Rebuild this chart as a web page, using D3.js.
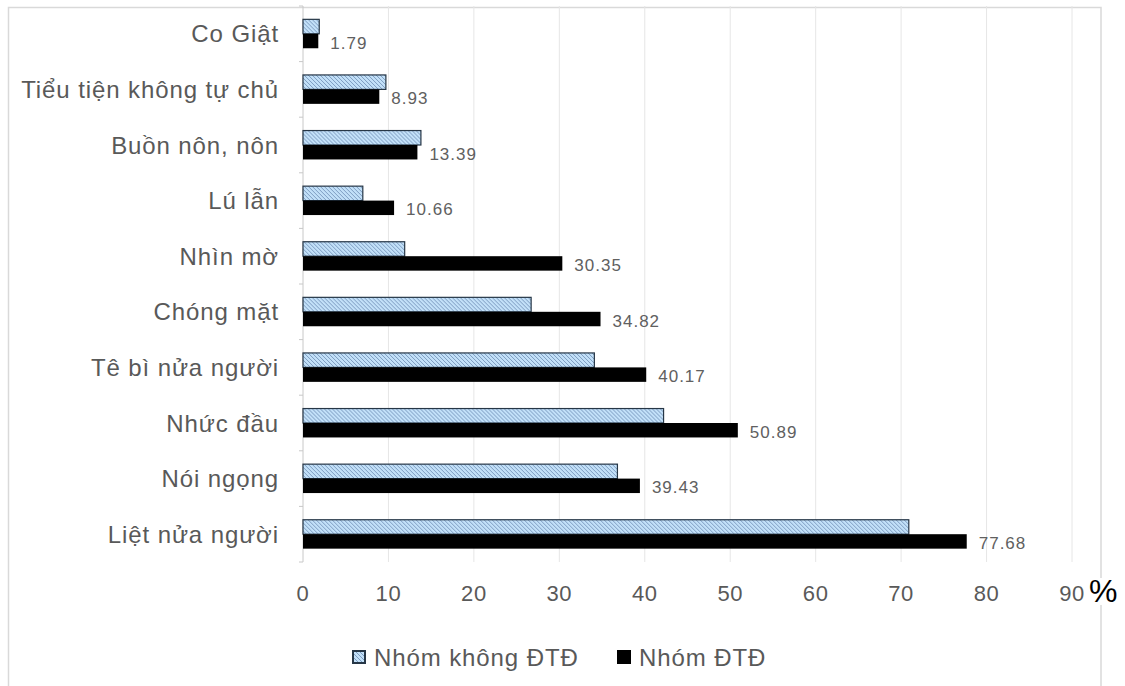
<!DOCTYPE html>
<html>
<head>
<meta charset="utf-8">
<script src="https://cdn.jsdelivr.net/npm/d3@7"></script>
<style>
  html, body { margin: 0; padding: 0; background: #fff; }
  svg { display: block; }
  text { font-family: "Liberation Sans", Arial, sans-serif; }
</style>
</head>
<body>
<svg id="chart" width="1125" height="686"></svg>
<script>
// Symptoms, listed top to bottom
const categories = [
  "Co Giật",
  "Tiểu tiện không tự chủ",
  "Buồn nôn, nôn",
  "Lú lẫn",
  "Nhìn mờ",
  "Chóng mặt",
  "Tê bì nửa người",
  "Nhức đầu",
  "Nói ngọng",
  "Liệt nửa người"
];
// Group without diabetes (hatched bars)
const nonDiabetic = [1.9, 9.7, 13.8, 7.0, 11.9, 26.7, 34.1, 42.2, 36.8, 70.9];
// Group with diabetes (black bars, labelled)
const diabetic = [1.79, 8.93, 13.39, 10.66, 30.35, 34.82, 40.17, 50.89, 39.43, 77.68];
const tickValues = [0, 10, 20, 30, 40, 50, 60, 70, 80, 90];
const seriesNames = ["Nhóm không ĐTĐ", "Nhóm ĐTĐ"];

const svg = d3.select("#chart");
const W = 1125, H = 686;
const plot = { left: 303, right: 1072, top: 6, bottom: 562 };

// Outer frame
svg.append("rect")
  .attr("x", 8.5).attr("y", 7.5)
  .attr("width", 1101 - 8.5).attr("height", H)
  .attr("fill", "#fff").attr("stroke", "#d9d9d9").attr("stroke-width", 1.5);

// Hatch pattern for the non-diabetic series
const defs = svg.append("defs");
const pat = defs.append("pattern")
  .attr("id", "hatch")
  .attr("patternUnits", "userSpaceOnUse")
  .attr("width", 4).attr("height", 4);
pat.append("rect").attr("width", 4).attr("height", 4).attr("fill", "#c2e0f8");
pat.append("path").attr("d", "M-1,-1 L5,5 M-1,3 L1,5 M3,-1 L5,1")
  .attr("stroke", "#7594bb").attr("stroke-width", 0.9);

const x = d3.scaleLinear().domain([0, 90]).range([plot.left, plot.right]);
const y = d3.scaleBand().domain(categories).range([plot.top, plot.bottom]).paddingInner(0.48).paddingOuter(0.24);
const ySub = d3.scaleBand().domain(["a", "b"]).range([0, y.bandwidth()]);

// Vertical gridlines
svg.append("g").selectAll("line")
  .data(tickValues.slice(1))
  .join("line")
  .attr("x1", d => x(d)).attr("x2", d => x(d))
  .attr("y1", plot.top).attr("y2", plot.bottom)
  .attr("stroke", "#e6e6e6").attr("stroke-width", 1);

// Category axis line with small outward ticks
const step = (plot.bottom - plot.top) / categories.length;
svg.append("line")
  .attr("x1", plot.left).attr("x2", plot.left)
  .attr("y1", plot.top).attr("y2", plot.bottom)
  .attr("stroke", "#c8c8c8").attr("stroke-width", 1);
svg.append("g").selectAll("line")
  .data(d3.range(categories.length + 1))
  .join("line")
  .attr("x1", plot.left - 4).attr("x2", plot.left)
  .attr("y1", i => plot.top + i * step).attr("y2", i => plot.top + i * step)
  .attr("stroke", "#c8c8c8");

// Bars
const groups = svg.append("g").selectAll("g")
  .data(categories)
  .join("g")
  .attr("transform", d => `translate(0,${y(d)})`);

groups.append("rect")
  .attr("x", x(0))
  .attr("y", ySub("a"))
  .attr("width", (d, i) => x(nonDiabetic[i]) - x(0))
  .attr("height", ySub.bandwidth())
  .attr("fill", "url(#hatch)")
  .attr("stroke", "#263646").attr("stroke-width", 1.2);

groups.append("rect")
  .attr("x", x(0))
  .attr("y", ySub("b"))
  .attr("width", (d, i) => x(diabetic[i]) - x(0))
  .attr("height", ySub.bandwidth())
  .attr("fill", "#000");

// Value labels for the black bars
groups.append("text")
  .attr("x", (d, i) => x(diabetic[i]) + 12)
  .attr("y", ySub("b") + ySub.bandwidth() / 2 + 2)
  .attr("dominant-baseline", "central")
  .attr("font-size", 17)
  .attr("letter-spacing", 1)
  .attr("fill", "#606060")
  .text((d, i) => diabetic[i].toFixed(2));

// Category labels
svg.append("g").selectAll("text")
  .data(categories)
  .join("text")
  .attr("x", 279)
  .attr("y", d => y(d) + y.bandwidth() / 2)
  .attr("text-anchor", "end")
  .attr("dominant-baseline", "central")
  .attr("font-size", 24)
  .attr("letter-spacing", 0.9)
  .attr("fill", "#595959")
  .text(d => d);

// Value axis tick labels
svg.append("g").selectAll("text")
  .data(tickValues)
  .join("text")
  .attr("x", d => x(d))
  .attr("y", 593)
  .attr("text-anchor", "middle")
  .attr("dominant-baseline", "central")
  .attr("font-size", 22)
  .attr("letter-spacing", 0.6)
  .attr("fill", "#595959")
  .text(d => d);

// Unit mark
svg.append("rect")
  .attr("x", 1088).attr("y", 578).attr("width", 34).attr("height", 27)
  .attr("fill", "#fff");
svg.append("text")
  .attr("x", 1089).attr("y", 602)
  .attr("font-family", "'Liberation Serif', 'Times New Roman', serif")
  .attr("font-size", 32)
  .attr("fill", "#000")
  .text("%");

// Legend
const legend = svg.append("g");
const legendItems = [
  { name: seriesNames[0], x: 352, fill: "url(#hatch)", stroke: "#263646" },
  { name: seriesNames[1], x: 617, fill: "#000", stroke: "#000" }
];
const ly = 657;
legendItems.forEach(it => {
  legend.append("rect")
    .attr("x", it.x + 1).attr("y", ly - 6)
    .attr("width", 12).attr("height", 12)
    .attr("fill", it.fill)
    .attr("stroke", it.stroke).attr("stroke-width", 2);
  legend.append("text")
    .attr("x", it.x + 22).attr("y", ly)
    .attr("dominant-baseline", "central")
    .attr("font-size", 24)
    .attr("letter-spacing", 0.9)
    .attr("fill", "#595959")
    .text(it.name);
});
</script>
</body>
</html>
